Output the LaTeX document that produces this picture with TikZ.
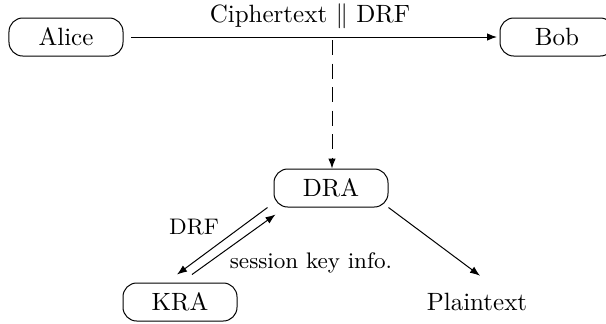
\documentclass[tikz,border=0pt]{standalone}
\usetikzlibrary{calc,arrows.meta}
\begin{document}
\begin{tikzpicture}[x=0.4pt,y=-0.4pt,
  party/.style={draw,rounded corners=5.5pt,minimum width=45.6pt,minimum height=15.2pt,inner sep=0pt,line width=0.4pt},
  arr/.style={-{Latex[length=4pt,width=3pt]},line width=0.4pt},
  lbl/.style={font=\small,inner sep=0pt}]
\useasboundingbox (0,0) rectangle (606,323);
\node[party] (alice) at (66,37) {Alice};
\node[party] (bob) at (557,37) {Bob};
\node[party] (dra) at (331,188) {DRA};
\node[party] (kra) at (180,302) {KRA};
\node[inner sep=0pt] (plain) at (477,302) {Plaintext};
\coordinate (split) at (332,40);
\draw[arr,shorten <=3pt,shorten >=1pt] (alice.east) -- (bob.west);
\node[inner sep=0pt,anchor=base] (ct) at (310,22) {Ciphertext $\|$ DRF};
\draw[arr,dash pattern=on 6pt off 3.4pt] (split) -- (split |- dra.north);
\draw[arr] ($(dra.south west)+(-6,0)$) -- ($(kra.north)+(-3,-8)$);
\draw[arr] ($(kra.north)+(12,-8)$) -- ($(dra.south west)+(2,7)$);
\draw[arr] (dra.south east) -- ($(plain.north)+(3,-17)$);
\node[lbl] (drf) at (194,227) {DRF};
\node[lbl] (ski) at (311,263) {session key info.};
\end{tikzpicture}
\end{document}
